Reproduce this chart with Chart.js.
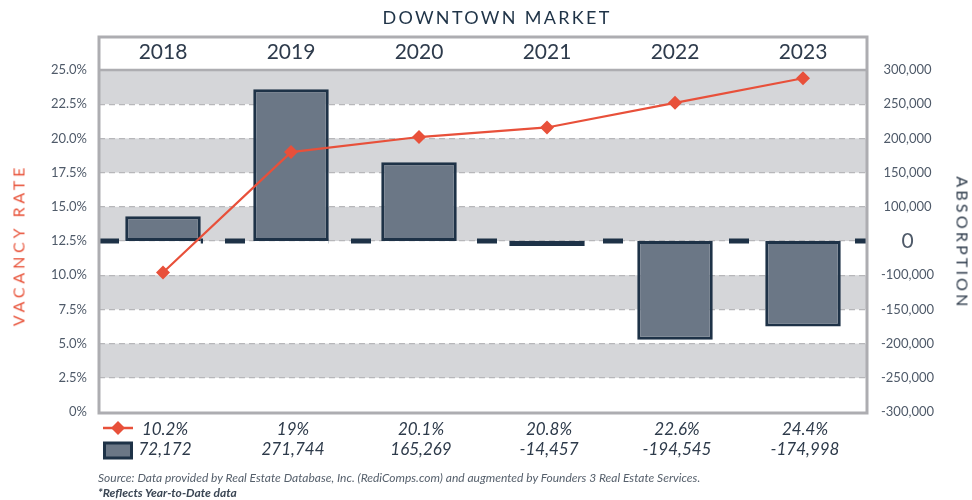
<!DOCTYPE html>
<html>
<head>
<meta charset="utf-8">
<script src="https://cdn.jsdelivr.net/npm/chart.js@4/dist/chart.umd.min.js"></script>
<style>
  html, body { margin: 0; padding: 0; background: #fff; }
  #wrap { position: relative; width: 972px; height: 500px; font-family: Lato, "Open Sans", sans-serif; }
  #wrap canvas { position: absolute; left: 0; top: 0; }
  .title { position: absolute; left: 11px; width: 972px; top: 6px; text-align: center; font-size: 18px; letter-spacing: 2.3px; color: #1f3347; }
  .ytitle { position: absolute; white-space: nowrap; font-size: 16px; }
  .left { left: 18px; top: 245px; transform: translate(-50%, -50%) rotate(-90deg); color: #e8533a; letter-spacing: 3.8px; }
  .right { left: 963px; top: 243px; transform: translate(-50%, -50%) rotate(90deg); color: #2d3a4a; letter-spacing: 3.2px; }
  .src { position: absolute; left: 98px; top: 470px; font-size: 12px; font-style: italic; color: #56606c; white-space: nowrap; }
  .note { position: absolute; left: 98px; top: 485px; font-size: 12px; font-style: italic; font-weight: bold; color: #3b4654; white-space: nowrap; }
</style>
</head>
<body>
<div id="wrap">
  <canvas id="c" width="972" height="500"></canvas>
  <div class="title">DOWNTOWN MARKET</div>
  <div class="ytitle left">VACANCY RATE</div>
  <div class="ytitle right">ABSORPTION</div>
  <div class="src">Source: Data provided by Real Estate Database, Inc. (RediComps.com) and augmented by Founders 3 Real Estate Services.</div>
  <div class="note">*Reflects Year-to-Date data</div>
</div>
<script>
// ---- data ----
const years = ['2018', '2019', '2020', '2021', '2022', '2023'];
const vacancyRate = [10.2, 19, 20.1, 20.8, 22.6, 24.4];
const absorption = [72172, 271744, 165269, -14457, -194545, -174998];
const absorptionTicks = [-300000, -250000, -200000, -150000, -100000, 0, 100000, 150000, 200000, 250000, 300000];

const FONT = 'Lato, "Open Sans", sans-serif';
const RED = '#e8503a';
const NAVY = '#1e3247';
const BAR = '#6b7786';

// Piecewise absorption scale: each labelled stop is evenly spaced on the axis
class AbsorptionScale extends Chart.LinearScale {
  determineDataLimits() {
    this.min = absorptionTicks[0];
    this.max = absorptionTicks[absorptionTicks.length - 1];
  }
  buildTicks() {
    this.start = this.min; this.end = this.max;
    return absorptionTicks.map(v => ({ value: v }));
  }
  getPixelForValue(value) {
    const t = absorptionTicks, n = t.length - 1;
    let i = 0;
    while (i < n - 1 && value > t[i + 1]) i++;
    const dec = (i + (value - t[i]) / (t[i + 1] - t[i])) / n;
    return this.getPixelForDecimal(dec);
  }
  getValueForPixel(pixel) {
    const t = absorptionTicks, n = t.length - 1;
    const d = Math.min(Math.max(this.getDecimalForPixel(pixel) * n, 0), n);
    const i = Math.min(Math.floor(d), n - 1);
    return t[i] + (d - i) * (t[i + 1] - t[i]);
  }
}
AbsorptionScale.id = 'absorption';
AbsorptionScale.defaults = {};
Chart.register(AbsorptionScale);

const decor = {
  id: 'decor',
  beforeDraw(chart) {
    const { ctx, chartArea: a } = chart;
    const y = chart.scales.y;
    ctx.save();
    ctx.fillStyle = '#d5d6d9';
    for (let v = 25; v > 0; v -= 5) {
      const top = y.getPixelForValue(v), bot = y.getPixelForValue(v - 2.5);
      ctx.fillRect(a.left, top, a.right - a.left, bot - top);
    }
    ctx.restore();
  },
  beforeDatasetsDraw(chart) {
    const { ctx, chartArea: a } = chart;
    const y0 = chart.scales.y2.getPixelForValue(0);
    const h = a.bottom - a.top;
    ctx.save();
    // zero line runs only in the gaps between the bars
    ctx.beginPath();
    ctx.rect(a.left, a.top, a.right - a.left, h);
    chart.getDatasetMeta(1).data.forEach(b => {
      const p = b.getProps(['x', 'width'], true);
      ctx.rect(p.x - p.width / 2, a.top, p.width, h);
    });
    ctx.clip('evenodd');
    ctx.strokeStyle = NAVY;
    ctx.lineWidth = 5;
    ctx.setLineDash([20, 22]);
    ctx.beginPath();
    ctx.moveTo(a.left, y0);
    ctx.lineTo(a.right, y0);
    ctx.stroke();
    ctx.restore();
  },
  afterDraw(chart) {
    const { ctx, chartArea: a } = chart;
    const x = chart.scales.x;
    ctx.save();
    // frame
    ctx.strokeStyle = '#adadb1';
    ctx.lineWidth = 3;
    ctx.strokeRect(a.left, 37, a.right - a.left, a.bottom + 1 - 37);
    ctx.lineWidth = 2.5;
    ctx.beginPath();
    ctx.moveTo(a.left, a.top);
    ctx.lineTo(a.right, a.top);
    ctx.stroke();

    // data table rows
    const r1 = 430, r2 = 450;
    ctx.font = 'italic 17px ' + FONT;
    ctx.fillStyle = '#2d3a4a';
    ctx.textAlign = 'center';
    ctx.textBaseline = 'middle';
    years.forEach((yr, i) => {
      const px = x.getPixelForValue(i) + 2;
      ctx.fillText(vacancyRate[i] + '%', px, r1);
      ctx.fillText(absorption[i].toLocaleString('en-US'), px, r2);
    });

    // legend markers
    ctx.strokeStyle = RED;
    ctx.lineWidth = 2.5;
    ctx.beginPath();
    ctx.moveTo(103, r1 - 2); ctx.lineTo(133, r1 - 2);
    ctx.stroke();
    ctx.fillStyle = RED;
    ctx.beginPath();
    ctx.moveTo(118, r1 - 9); ctx.lineTo(125, r1 - 2); ctx.lineTo(118, r1 + 5); ctx.lineTo(111, r1 - 2);
    ctx.closePath();
    ctx.fill();
    ctx.fillStyle = BAR;
    ctx.strokeStyle = NAVY;
    ctx.lineWidth = 3;
    ctx.fillRect(104.5, r2 - 7, 27, 15);
    ctx.strokeRect(104.5, r2 - 7, 27, 15);
    ctx.restore();
  }
};

new Chart(document.getElementById('c'), {
  data: {
    labels: years,
    datasets: [
      {
        type: 'line',
        label: 'Vacancy Rate',
        data: vacancyRate,
        yAxisID: 'y',
        borderColor: RED,
        backgroundColor: RED,
        borderWidth: 2.2,
        pointStyle: 'rectRot',
        pointRadius: 7,
        pointBorderWidth: 0,
        pointBackgroundColor: RED,
        tension: 0,
        order: 0
      },
      {
        type: 'bar',
        label: 'Absorption',
        data: absorption,
        yAxisID: 'y2',
        backgroundColor: BAR,
        borderColor: NAVY,
        borderWidth: 3,
        borderSkipped: false,
        barPercentage: 0.59,
        categoryPercentage: 1,
        order: 1
      }
    ]
  },
  options: {
    responsive: false,
    animation: false,
    layout: { padding: { top: 37, bottom: 88, left: 0, right: 0 } },
    plugins: { legend: { display: false }, tooltip: { enabled: false }, title: { display: false } },
    scales: {
      x: {
        position: 'top',
        grid: { display: false },
        border: { display: false },
        ticks: { font: { family: FONT, size: 21 }, color: '#2e3b4c', padding: -3 },
        afterFit(s) { s.height = 33; }
      },
      y: {
        position: 'left',
        min: 0, max: 25,
        grid: {
          drawTicks: false,
          color: c => (c.tick && (c.tick.value === 0 || c.tick.value === 25)) ? 'rgba(0,0,0,0)' : '#b7b7ba',
          lineWidth: 1.2
        },
        border: { display: false, dash: [6, 4] },
        ticks: {
          stepSize: 2.5,
          padding: 12,
          font: { family: FONT, size: 13 },
          color: '#4f5a69',
          callback: v => v === 0 ? '0%' : v.toFixed(1) + '%'
        },
        afterFit(s) { s.width = 99; }
      },
      y2: {
        type: 'absorption',
        position: 'right',
        grid: { display: false, drawTicks: false },
        border: { display: false },
        ticks: {
          padding: 14,
          crossAlign: 'center',
          color: '#4f5a69',
          font: c => ({ family: FONT, size: (c.tick && c.tick.value === 0) ? 21 : 13 }),
          callback: v => v.toLocaleString('en-US')
        },
        afterFit(s) { s.width = 105; }
      }
    }
  },
  plugins: [decor]
});
</script>
</body>
</html>
